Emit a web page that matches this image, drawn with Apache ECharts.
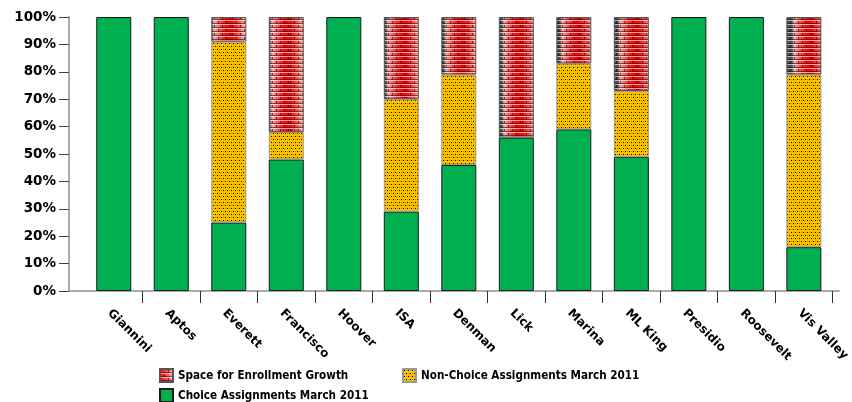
<!DOCTYPE html>
<html>
<head>
<meta charset="utf-8">
<script src="https://cdn.jsdelivr.net/npm/echarts@6/dist/echarts.min.js"></script>
<style>
html,body{margin:0;padding:0;background:#fff;}
#chart{width:852px;height:402px;}
</style>
</head>
<body>
<div id="chart"></div>
<script>
const categories = ['Giannini','Aptos','Everett','Francisco','Hoover','ISA','Denman','Lick','Marina','ML King','Presidio','Roosevelt','Vis Valley'];
const choiceAssignments = [100,100,25,48,100,29,46,56,59,49,100,100,16];
const nonChoiceAssignments = [0,0,66,10,0,41,33,0,24,24,0,0,63];
const spaceForGrowth = [0,0,9,42,0,30,21,44,17,27,0,0,21];
const seriesNames = ['Space for Enrollment Growth','Non-Choice Assignments March 2011','Choice Assignments March 2011'];
const yTickValues = [0,10,20,30,40,50,60,70,80,90,100];

function brickTile(){
  const W=58,H=8;
  const c=document.createElement('canvas'); c.width=W; c.height=H;
  const ctx=c.getContext('2d'); const img=ctx.createImageData(W,H);
  function lerp(a,b,t){return [a[0]+(b[0]-a[0])*t,a[1]+(b[1]-a[1])*t,a[2]+(b[2]-a[2])*t];}
  for(let x=0;x<W;x++){
    const d=((x-55+29+116)%58)-29;
    const t=Math.min(1,Math.abs(d)/17.5);
    let col;
    if(t<0.25) col=lerp([255,0,0],[255,20,20],t/0.25);
    else if(t<0.6) col=lerp([255,20,20],[255,90,90],(t-0.25)/0.35);
    else if(t<0.88) col=lerp([255,90,90],[255,170,170],(t-0.6)/0.28);
    else col=lerp([255,170,170],[80,80,80],(t-0.88)/0.12);
    for(let y=0;y<H;y++){
      const row=Math.floor(y/4), yy=y%4, off=row*4;
      let p;
      if(yy===0) p=lerp(col,[255,255,255],0.6);
      else if((x+off)%8===0) p=lerp(col,[0,0,0],0.6);
      else if(yy===3) p=lerp(col,[0,0,0],0.5);
      else p=col;
      const i=(y*W+x)*4;
      img.data[i]=p[0];img.data[i+1]=p[1];img.data[i+2]=p[2];img.data[i+3]=255;
    }
  }
  ctx.putImageData(img,0,0);
  return c;
}
function dotTile(){
  const W=4,H=6;
  const c=document.createElement('canvas'); c.width=W; c.height=H;
  const ctx=c.getContext('2d');
  ctx.fillStyle='#ffc000'; ctx.fillRect(0,0,W,H);
  ctx.fillStyle='#000'; ctx.fillRect(1,1,1,1); ctx.fillRect(3,4,1,1);
  ctx.fillStyle='#b98a00'; ctx.fillRect(3,1,1,1); ctx.fillRect(1,4,1,1);
  return c;
}
const nz = a => a.map(v => v===0 ? null : v);

const chart = echarts.init(document.getElementById('chart'), null, {renderer:'canvas'});
const labelFont = {fontFamily:'DejaVu Sans', fontWeight:'bold', color:'#000'};
const legendText = {fontFamily:'DejaVu Sans Condensed', fontWeight:'bold', fontSize:11.6, color:'#000'};
const option = {
  animation:false,
  backgroundColor:'#fff',
  grid:[
    {left:85, right:13, top:17, bottom:111},
    {left:69, right:13, top:17, bottom:111}
  ],
  legend:[
    {data:[seriesNames[0],seriesNames[2]], orient:'vertical', left:154, top:363, height:60, itemWidth:13, itemHeight:13, itemGap:5, icon:'rect',
     textStyle:legendText},
    {data:[seriesNames[1]], orient:'vertical', left:397, top:363, height:60, itemWidth:13, itemHeight:13, icon:'rect',
     textStyle:legendText}
  ],
  xAxis:[
    {type:'category', gridIndex:0, data:categories, boundaryGap:true,
     axisLine:{show:false},
     axisTick:{show:true, length:12, interval:(i)=>i>0, lineStyle:{color:'#333', width:1}},
     axisLabel:{rotate:-45, margin:16, interval:0, fontSize:12, verticalAlign:'top', ...labelFont}},
    {type:'value', gridIndex:1, min:0, max:1, axisLine:{show:true, lineStyle:{color:'#ababab', width:2}},
     axisTick:{show:false}, axisLabel:{show:false}, splitLine:{show:false}}
  ],
  yAxis:[
    {type:'value', gridIndex:0, min:0, max:100, show:false, splitLine:{show:false}},
    {type:'value', gridIndex:1, min:0, max:100, interval:10,
     axisLine:{show:true, lineStyle:{color:'#ababab', width:2}},
     axisTick:{show:true, length:10, lineStyle:{color:'#444', width:1}},
     axisLabel:{margin:13, fontSize:13.5, ...labelFont, formatter:(v)=> yTickValues.includes(v) ? v+'%' : ''},
     splitLine:{show:false}}
  ],
  series:[
    {name:seriesNames[2], type:'bar', stack:'s', xAxisIndex:0, yAxisIndex:0, barWidth:35, data:nz(choiceAssignments),
     itemStyle:{color:'#00b050', borderColor:'#1a1a1a', borderWidth:1}},
    {name:seriesNames[1], type:'bar', stack:'s', xAxisIndex:0, yAxisIndex:0, barWidth:35, data:nz(nonChoiceAssignments),
     itemStyle:{color:{image:dotTile(), repeat:'repeat'}, borderColor:'#9a9a9a', borderWidth:1}},
    {name:seriesNames[0], type:'bar', stack:'s', xAxisIndex:0, yAxisIndex:0, barWidth:35, data:nz(spaceForGrowth),
     itemStyle:{color:{image:brickTile(), repeat:'repeat'}, borderColor:'#555', borderWidth:1}}
  ]
};
chart.setOption(option);
</script>
</body>
</html>
